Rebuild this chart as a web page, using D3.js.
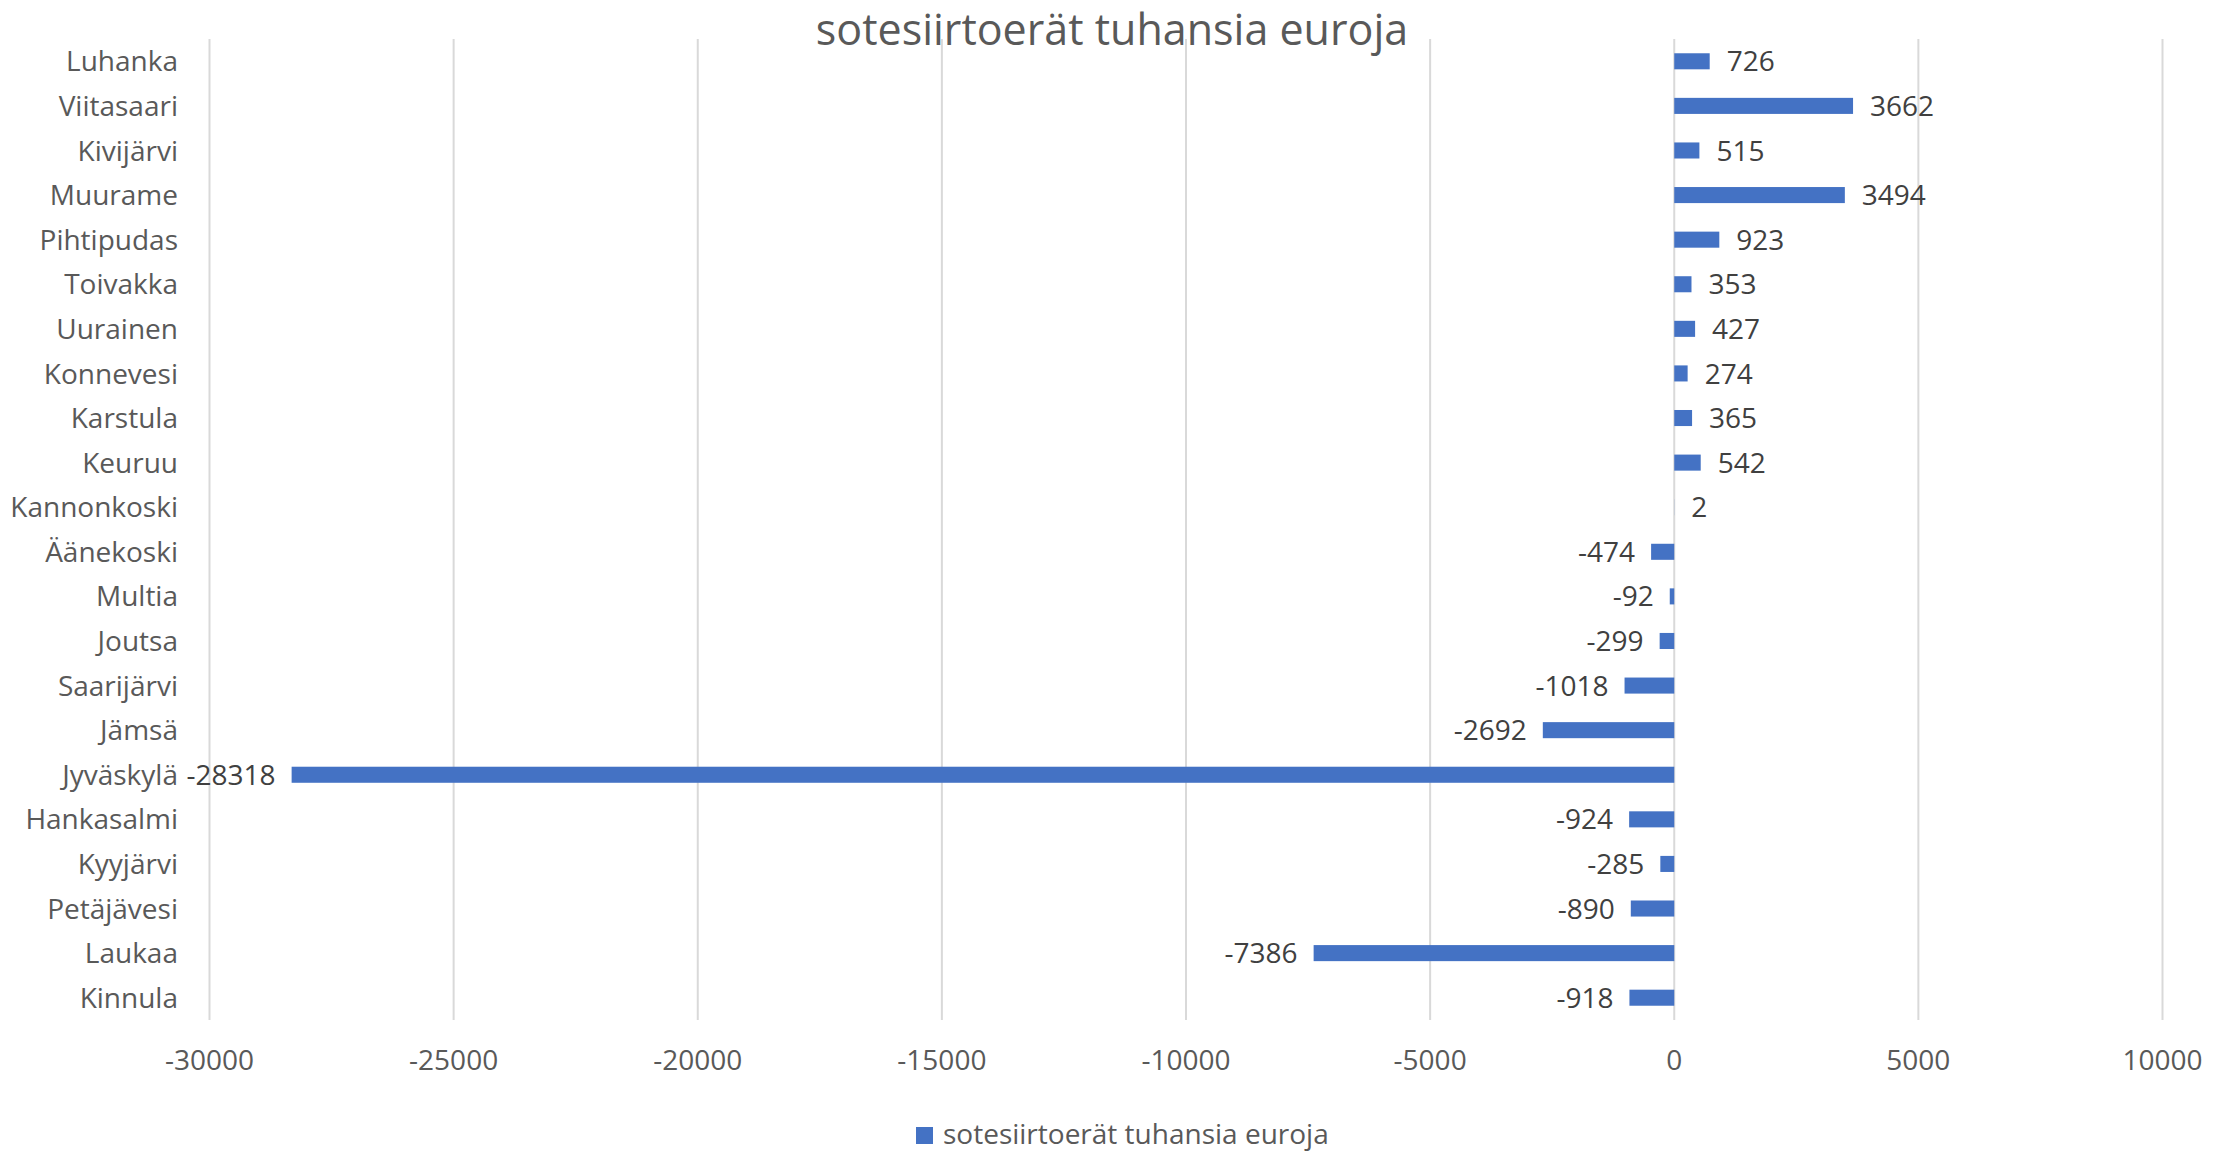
<!DOCTYPE html>
<html>
<head>
<meta charset="utf-8">
<script src="https://cdn.jsdelivr.net/npm/d3@7"></script>
<style>
  body { margin: 0; background: #fff; }
  svg { display: block; font-family: "Open Sans", sans-serif; }
</style>
</head>
<body>
<svg width="2231" height="1153"></svg>
<script>
// data, top to bottom as in the chart
const kunnat = ["Luhanka", "Viitasaari", "Kivijärvi", "Muurame", "Pihtipudas", "Toivakka",
  "Uurainen", "Konnevesi", "Karstula", "Keuruu", "Kannonkoski", "Äänekoski", "Multia",
  "Joutsa", "Saarijärvi", "Jämsä", "Jyväskylä", "Hankasalmi", "Kyyjärvi", "Petäjävesi",
  "Laukaa", "Kinnula"];
const arvot = [726, 3662, 515, 3494, 923, 353, 427, 274, 365, 542, 2, -474, -92,
  -299, -1018, -2692, -28318, -924, -285, -890, -7386, -918];
const xTicks = [-30000, -25000, -20000, -15000, -10000, -5000, 0, 5000, 10000];
const otsikko = "sotesiirtoerät tuhansia euroja";

const data = kunnat.map((k, i) => ({ kunta: k, arvo: arvot[i] }));

const svg = d3.select("svg");
const vasen = 209.5, oikea = 2162.5, ylä = 39, ala = 1020;

const x = d3.scaleLinear().domain([-30000, 10000]).range([vasen, oikea]);
const y = d3.scaleBand().domain(kunnat).range([ylä, ala]).paddingInner(0.64).paddingOuter(0.32);

// gridlines
svg.append("g")
  .selectAll("line")
  .data(xTicks)
  .join("line")
  .attr("x1", d => x(d)).attr("x2", d => x(d))
  .attr("y1", ylä).attr("y2", ala)
  .style("stroke", "#d9d9d9")
  .style("stroke-width", 2);

// tick labels
svg.append("g")
  .selectAll("text")
  .data(xTicks)
  .join("text")
  .attr("x", d => x(d))
  .attr("y", 1070)
  .attr("text-anchor", "middle")
  .style("font-size", "28px")
  .style("fill", "#595959")
  .text(d => d);

// category labels
svg.append("g")
  .selectAll("text")
  .data(kunnat)
  .join("text")
  .attr("x", 178)
  .attr("y", d => y(d) + y.bandwidth() / 2)
  .attr("dy", "0.36em")
  .attr("text-anchor", "end")
  .style("font-size", "28px")
  .style("fill", "#595959")
  .text(d => d);

// bars
svg.append("g")
  .selectAll("rect")
  .data(data)
  .join("rect")
  .attr("x", d => x(Math.min(0, d.arvo)))
  .attr("y", d => y(d.kunta))
  .attr("width", d => Math.abs(x(d.arvo) - x(0)))
  .attr("height", y.bandwidth())
  .style("fill", "#4472c4");

// value labels
svg.append("g")
  .selectAll("text")
  .data(data)
  .join("text")
  .attr("x", d => d.arvo < 0 ? x(d.arvo) - 16 : x(d.arvo) + 17)
  .attr("y", d => y(d.kunta) + y.bandwidth() / 2)
  .attr("dy", "0.36em")
  .attr("text-anchor", d => d.arvo < 0 ? "end" : "start")
  .style("font-size", "28px")
  .style("fill", "#404040")
  .text(d => d.arvo);

// title
svg.append("text")
  .attr("x", 1112)
  .attr("y", 45)
  .attr("text-anchor", "middle")
  .style("font-size", "43px")
  .style("fill", "#595959")
  .text(otsikko);

// legend
const leg = svg.append("g");
leg.append("rect")
  .attr("x", 916).attr("y", 1127)
  .attr("width", 17).attr("height", 17)
  .style("fill", "#4472c4");
leg.append("text")
  .attr("x", 943).attr("y", 1144)
  .style("font-size", "28px")
  .style("fill", "#595959")
  .text(otsikko);
</script>
</body>
</html>
